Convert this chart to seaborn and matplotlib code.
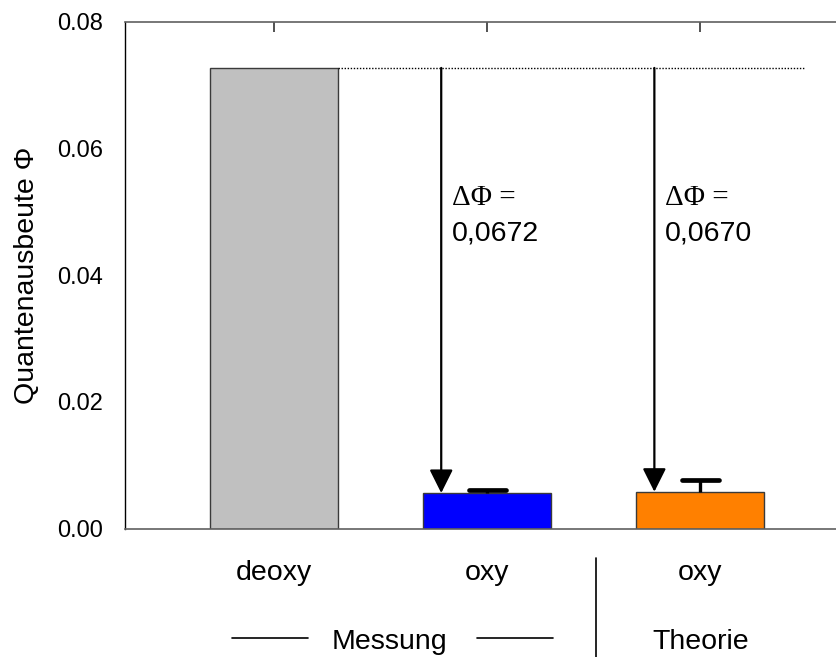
import numpy as np
import pandas as pd
import matplotlib
matplotlib.use("Agg")
import matplotlib.pyplot as plt
from matplotlib.ticker import MultipleLocator, FormatStrFormatter
import seaborn as sns

# ---- data ----
keys = ["deoxy_mess", "oxy_mess", "oxy_theo"]
cat_labels = ["deoxy", "oxy", "oxy"]
values = [0.0727, 0.0056, 0.0058]
err_up = [0.0, 0.0005, 0.0019]
colors = ["#c0c0c0", "#0000ff", "#ff8000"]
delta_texts = ["0,0672", "0,0670"]
group_labels = ["Messung", "Theorie"]
ylabel = "Quantenausbeute \u03a6"

sns.set_style("white")
plt.rcParams["font.family"] = ["Liberation Sans", "DejaVu Sans"]
plt.rcParams["text.color"] = "black"
plt.rcParams["axes.labelcolor"] = "black"
plt.rcParams["xtick.color"] = "black"
plt.rcParams["ytick.color"] = "black"

fig = plt.figure(figsize=(8.37, 6.57), dpi=100)
ax = fig.add_axes([125 / 837, 1 - 528.5 / 657, 711.5 / 837, (528.5 - 21.7) / 657])

df = pd.DataFrame({"key": keys, "value": values})
sns.barplot(data=df, x="key", y="value", hue="key", palette=colors, legend=False,
            width=0.6, edgecolor="#3a3a3a", linewidth=1.0, errorbar=None, ax=ax,
            saturation=1)

pos = np.arange(len(keys))
vals = np.array(values)
err = np.array(err_up)
mask = err > 0
# upper-only error bars (stem + top cap)
ax.vlines(pos[mask], vals[mask], vals[mask] + err[mask], colors="black", linewidth=2.4, zorder=5)
ax.hlines(vals[mask] + err[mask], pos[mask] - 0.087, pos[mask] + 0.087, colors="black",
          linewidth=3.4, zorder=5, capstyle="round")

ax.set_xlim(-0.6986, 2.6395)
ax.set_ylim(0, 0.08)

# dotted reference line at deoxy level
ax.hlines(values[0], 0.3, 2.485, colors="black", linestyles=(0, (1, 1.2)), linewidth=1.0, zorder=3)

# arrows and delta labels
for i, txt in zip([1, 2], delta_texts):
    xa = pos[i] - 0.215
    ax.annotate("", xy=(xa, values[i]), xytext=(xa, values[0]),
                arrowprops=dict(arrowstyle="-|>,head_length=0.72,head_width=0.36",
                                mutation_scale=20, color="black", lw=1.6,
                                shrinkA=0, shrinkB=0), zorder=6)
    xt = pos[i] - 0.165
    ax.text(xt, 0.0522, "\u0394\u03a6 =", fontsize=21, va="center", ha="left",
            family=["Liberation Serif", "DejaVu Serif"])
    ax.text(xt, 0.0466, txt, fontsize=20.5, va="center", ha="left")

# axes styling
ax.set_xlabel("")
ax.set_ylabel(ylabel, fontsize=20.5, labelpad=12)
ax.yaxis.set_major_locator(MultipleLocator(0.02))
ax.yaxis.set_minor_locator(MultipleLocator(0.01))
ax.yaxis.set_major_formatter(FormatStrFormatter("%.2f"))
ax.tick_params(axis="y", which="major", direction="out", length=7, width=1, labelsize=17, pad=9)
ax.tick_params(axis="y", which="minor", direction="out", length=4, width=1)
ax.set_xticks(pos)
ax.set_xticklabels([])
ax.tick_params(axis="x", which="major", direction="in", length=7, width=1.2, top=True, bottom=True,
               color="#333333")
ax.spines["right"].set_visible(False)
ax.spines["left"].set_color("black")
ax.spines["left"].set_linewidth(1.0)
for s in ["top", "bottom"]:
    ax.spines[s].set_color("#606060")
    ax.spines[s].set_linewidth(1.2)

# category labels below axis
trans = ax.get_xaxis_transform()
for p, lab in zip(pos, cat_labels):
    ax.text(p, -0.1016, lab, transform=trans, ha="center", va="baseline", fontsize=20.5, clip_on=False)

# group labels
ax.text(0.54, -0.2378, group_labels[0], transform=trans, ha="center", va="baseline", fontsize=20.5, clip_on=False)
ax.text(2, -0.2378, group_labels[1], transform=trans, ha="center", va="baseline", fontsize=20.5, clip_on=False)
ax.plot([-0.197, 0.159], [-0.216, -0.216], transform=trans, color="black", lw=1.2, clip_on=False)
ax.plot([0.952, 1.308], [-0.216, -0.216], transform=trans, color="black", lw=1.2, clip_on=False)
ax.plot([1.51, 1.51], [-0.058, -0.26], transform=trans, color="black", lw=1.2, clip_on=False)

fig.savefig("out.png", dpi=100)
